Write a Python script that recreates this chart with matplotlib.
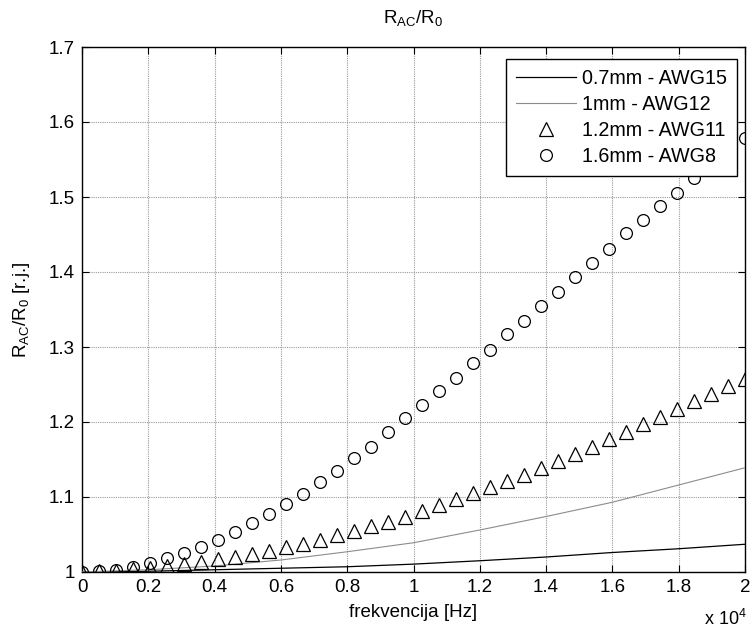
import numpy as np
import matplotlib
matplotlib.use("Agg")
import matplotlib.pyplot as plt

plt.rcParams['font.family'] = ['Liberation Sans', 'DejaVu Sans']
plt.rcParams['mathtext.fontset'] = 'custom'
plt.rcParams['mathtext.rm'] = 'Liberation Sans'
plt.rcParams['mathtext.it'] = 'Liberation Sans'
plt.rcParams['mathtext.default'] = 'regular'

# frequency samples for the marker series (Hz)
freq_markers = [0, 513, 1026, 1538, 2051, 2564, 3077, 3590, 4103, 4615,
                5128, 5641, 6154, 6667, 7179, 7692, 8205, 8718, 9231, 9744,
                10256, 10769, 11282, 11795, 12308, 12821, 13333, 13846, 14359, 14872,
                15385, 15897, 16410, 16923, 17436, 17949, 18462, 18974, 19487, 20000]
# frequency samples for the line series (Hz)
freq_lines = [0, 2000, 4000, 6000, 8000, 10000, 12000, 14000, 16000, 18000, 20000]

awg15 = [1.000, 1.001, 1.003, 1.005, 1.007, 1.0105, 1.015, 1.020, 1.026, 1.031, 1.037]
awg12 = [1.000, 1.003, 1.008, 1.016, 1.027, 1.039, 1.056, 1.074, 1.093, 1.116, 1.139]
awg11 = [1.000, 1.001, 1.002, 1.004, 1.006, 1.008, 1.011, 1.014, 1.017, 1.020,
         1.024, 1.028, 1.033, 1.038, 1.043, 1.049, 1.055, 1.061, 1.067, 1.074,
         1.081, 1.089, 1.097, 1.105, 1.113, 1.121, 1.130, 1.139, 1.148, 1.158,
         1.167, 1.177, 1.187, 1.197, 1.207, 1.218, 1.228, 1.238, 1.248, 1.258]
awg8 = [1.000, 1.001, 1.003, 1.007, 1.012, 1.019, 1.025, 1.033, 1.043, 1.053,
        1.065, 1.077, 1.091, 1.104, 1.120, 1.135, 1.152, 1.167, 1.187, 1.205,
        1.223, 1.241, 1.259, 1.279, 1.296, 1.317, 1.335, 1.355, 1.373, 1.393,
        1.412, 1.431, 1.452, 1.469, 1.488, 1.505, 1.525, 1.543, 1.561, 1.579]

labels = ['0.7mm - AWG15', '1mm - AWG12', '1.2mm - AWG11', '1.6mm - AWG8']

xticks = [0, 2000, 4000, 6000, 8000, 10000, 12000, 14000, 16000, 18000, 20000]
xticklabels = ['0', '0.2', '0.4', '0.6', '0.8', '1', '1.2', '1.4', '1.6', '1.8', '2']
yticks = [1.0, 1.1, 1.2, 1.3, 1.4, 1.5, 1.6, 1.7]
yticklabels = ['1', '1.1', '1.2', '1.3', '1.4', '1.5', '1.6', '1.7']

fs = 13.5
fig = plt.figure(figsize=(7.52, 6.30), dpi=100)
ax = fig.add_axes([82/752, 1 - 572/630, (745-82)/752, (572-47)/630])

ax.plot(freq_lines, awg15, color='black', lw=0.9, label=labels[0], zorder=3)
ax.plot(freq_lines, awg12, color='#8c8c8c', lw=0.8, label=labels[1], zorder=3)
ax.plot(freq_markers, awg11, ls='none', marker='^', ms=9.5, mfc='none', mec='black',
        mew=0.9, label=labels[2], zorder=4)
ax.plot(freq_markers, awg8, ls='none', marker='o', ms=8.5, mfc='none', mec='black',
        mew=0.9, label=labels[3], zorder=4)

ax.set_xlim(0, 20000)
ax.set_ylim(1.0, 1.7)
ax.set_xticks(xticks)
ax.set_xticklabels(xticklabels, fontsize=fs)
ax.set_yticks(yticks)
ax.set_yticklabels(yticklabels, fontsize=fs)
ax.tick_params(direction='in', top=True, right=True, length=5, width=0.8, pad=5)
for s in ax.spines.values():
    s.set_linewidth(1.0)
    s.set_color('black')
ax.grid(True, color='#9a9a9a', ls=(0, (1, 1)), lw=0.8)
ax.set_axisbelow(True)

ax.set_title('R$_{AC}$/R$_0$', fontsize=fs, pad=17)
ax.set_xlabel('frekvencija [Hz]', fontsize=fs, labelpad=6)
ax.set_ylabel('R$_{AC}$/R$_0$ [r.j.]', fontsize=fs, labelpad=12)
fig.text(747/752, 1 - 619/630, 'x 10$^4$', fontsize=13, ha='right', va='center')

leg = ax.legend(loc='upper right', bbox_to_anchor=(0.988, 0.977), fontsize=14.2,
                frameon=True, fancybox=False, edgecolor='black', framealpha=1,
                handlelength=3.05, borderpad=0.5, labelspacing=0.36,
                handletextpad=0.3, borderaxespad=0)
leg.get_frame().set_linewidth(1.0)

fig.savefig('out.png', dpi=100)
